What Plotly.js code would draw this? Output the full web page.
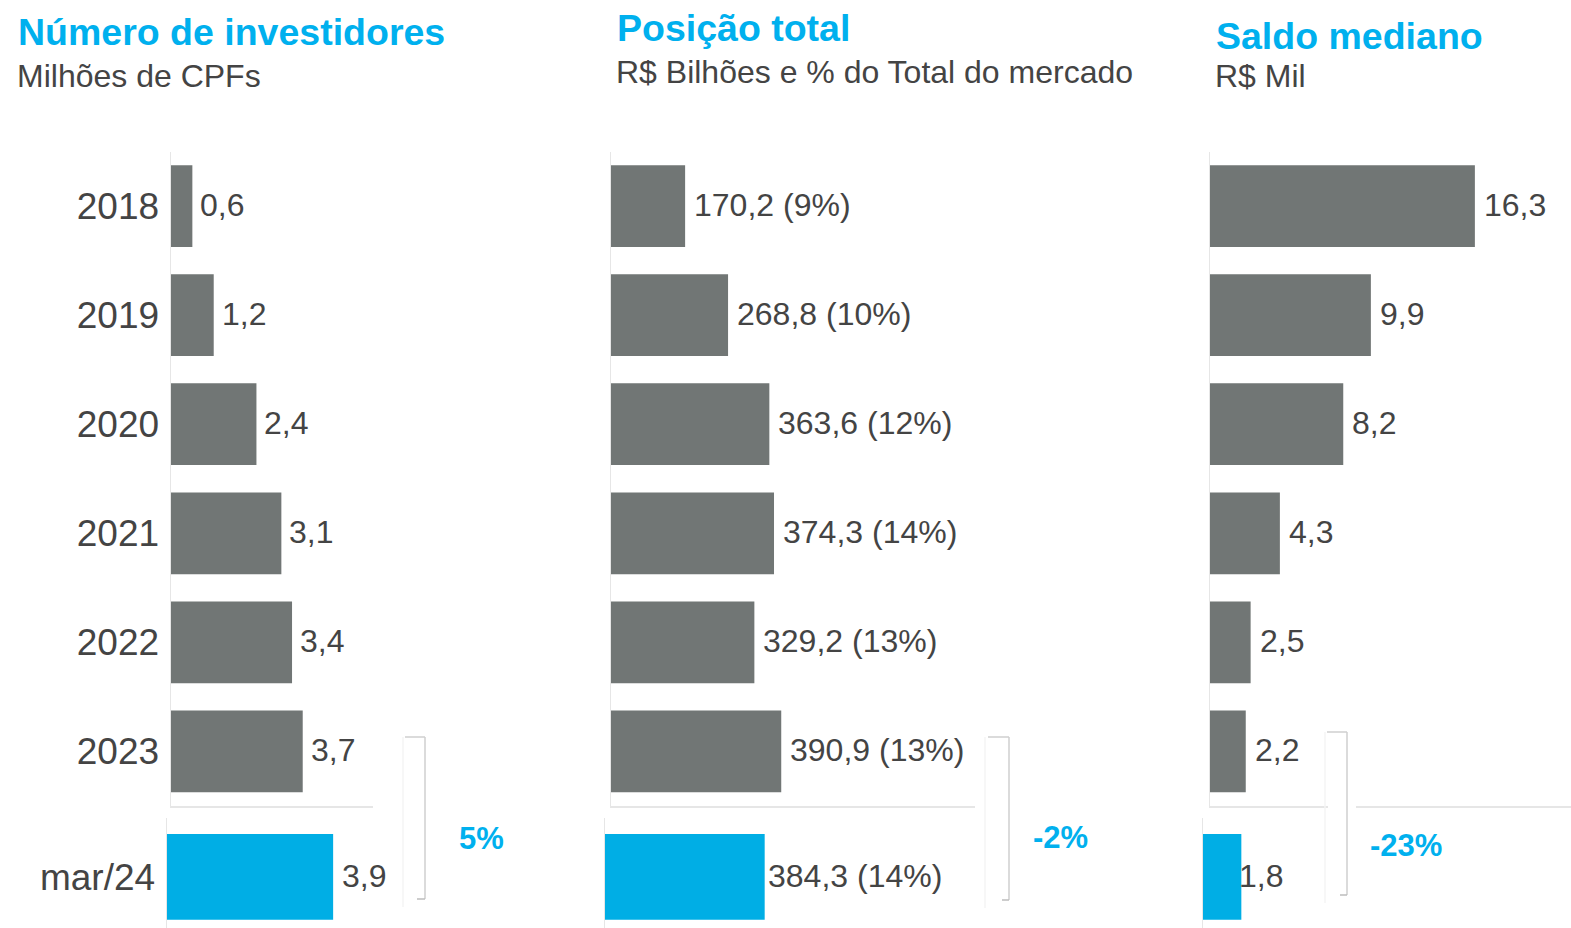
<!DOCTYPE html>
<html>
<head>
<meta charset="utf-8">
<script src="https://cdn.plot.ly/plotly-3.0.1.min.js"></script>
<style>
  html, body { margin: 0; padding: 0; background: #ffffff; }
  #chart { width: 1571px; height: 928px; }
</style>
</head>
<body>
<div id="chart"></div>
<script>
// ---------- DATA ----------
const years = ['2018', '2019', '2020', '2021', '2022', '2023'];
const latestLabel = ['mar/24'];

const investors = [0.6, 1.2, 2.4, 3.1, 3.4, 3.7];          // Milhões de CPFs
const investorsLatest = [3.9];

const position = [170.2, 268.8, 363.6, 374.3, 329.2, 390.9]; // R$ Bilhões
const positionPct = [9, 10, 12, 14, 13, 13];                 // % do total
const positionLatest = [384.3];
const positionLatestPct = [14];

const medianBalance = [16.3, 9.9, 8.2, 4.3, 2.5, 2.2];       // R$ Mil
const medianLatest = [1.8];

const changes = ['5%', '-2%', '-23%'];

const panelTitles = ['Número de investidores', 'Posição total', 'Saldo mediano'];
const panelSubtitles = ['Milhões de CPFs', 'R$ Bilhões e % do Total do mercado', 'R$ Mil'];

// ---------- HELPERS ----------
const W = 1571, H = 928;
const px = x => x / W;
const py = y => 1 - y / H;
const fmt = v => v.toFixed(1).replace('.', ',');

const GRAY = '#717675';
const BLUE = '#00AEE5';
const TITLE_BLUE = '#00B0EE';
const TEXT = '#444444';
const AXIS = '#E6E6E6';
const FONT = 'Liberation Sans, Arial, sans-serif';

// ---------- TRACES ----------
const traces = [];
function addBar(xs, ys, color, xa, ya, width) {
  traces.push({
    type: 'bar', orientation: 'h', x: xs, y: ys,
    marker: { color: color, line: { width: 0 } },
    width: width, xaxis: xa, yaxis: ya, hoverinfo: 'skip', showlegend: false
  });
}
addBar(investors, years, GRAY, 'x', 'y', 0.75);
addBar(investorsLatest, latestLabel, BLUE, 'x2', 'y2', 0.78);
addBar(position, years, GRAY, 'x3', 'y3', 0.75);
addBar(positionLatest, latestLabel, BLUE, 'x4', 'y4', 0.78);
addBar(medianBalance, years, GRAY, 'x5', 'y5', 0.75);
addBar(medianLatest, latestLabel, BLUE, 'x6', 'y6', 0.78);

// ---------- AXES ----------
function xa(domainPx, rangeMax, showLine, anchor) {
  return {
    domain: [px(domainPx[0]), px(domainPx[1])], range: [0, rangeMax], anchor: anchor,
    showgrid: false, zeroline: false, showticklabels: false, ticks: '',
    showline: showLine, linecolor: AXIS, linewidth: 1.5, fixedrange: true
  };
}
function ya(domainPx, anchor, cats, showLabels, standoff, shift) {
  const n = cats.length;
  return {
    domain: [py(domainPx[1]), py(domainPx[0])], anchor: anchor,
    type: 'category', categoryorder: 'array', categoryarray: cats,
    range: [n - 0.5 - shift, -0.5 - shift], autorange: false,
    showgrid: false, zeroline: false, ticks: '',
    showticklabels: showLabels, ticklabelstandoff: standoff,
    tickfont: { family: FONT, size: 37, color: TEXT },
    showline: true, linecolor: AXIS, linewidth: 1.5, fixedrange: true
  };
}

const UP = [151.5, 806];
const LO = [818, 928];

const layout = {
  width: W, height: H,
  margin: { l: 0, r: 0, t: 0, b: 0, pad: 0 },
  paper_bgcolor: '#ffffff', plot_bgcolor: 'rgba(0,0,0,0)',
  showlegend: false, hovermode: false,
  font: { family: FONT, color: TEXT },
  xaxis: xa([171, 373], 202 / 35.6, true, 'y'),
  yaxis: ya(UP, 'x', years, true, 3, 0),
  xaxis2: xa([167, 400], 233 / 42.6, false, 'y2'),
  yaxis2: ya(LO, 'x2', latestLabel, true, 3, 0.036),
  xaxis3: xa([611, 975], 364 / 0.4355, true, 'y3'),
  yaxis3: ya(UP, 'x3', years, false, 0, 0),
  xaxis4: xa([605, 900], 295 / 0.4155, false, 'y4'),
  yaxis4: ya(LO, 'x4', latestLabel, false, 0, 0.036),
  xaxis5: xa([1210, 1571], 361 / 16.25, true, 'y5'),
  yaxis5: ya(UP, 'x5', years, false, 0, 0),
  xaxis6: xa([1203, 1330], 127 / 21.3, false, 'y6'),
  yaxis6: ya(LO, 'x6', latestLabel, false, 0, 0.036),
  annotations: [],
  shapes: []
};

// ---------- VALUE LABELS ----------
const valFont = { family: FONT, size: 32, color: TEXT };
function valueLabels(vals, xref, yref, textFn, shift) {
  vals.forEach((v, i) => {
    layout.annotations.push({
      x: v, y: i, xref: xref, yref: yref, text: textFn(v, i),
      showarrow: false, xanchor: 'left', yanchor: 'middle', xshift: shift, yshift: 1,
      font: valFont
    });
  });
}
valueLabels(investors, 'x', 'y', v => fmt(v), 6);
valueLabels(investorsLatest, 'x2', 'y2', v => fmt(v), 7);
valueLabels(position, 'x3', 'y3', (v, i) => fmt(v) + ' (' + positionPct[i] + '%)', 7);
valueLabels(positionLatest, 'x4', 'y4', (v, i) => fmt(v) + ' (' + positionLatestPct[i] + '%)', 1);
valueLabels(medianBalance, 'x5', 'y5', v => fmt(v), 7);
valueLabels(medianLatest, 'x6', 'y6', v => fmt(v), -4);

// ---------- TITLES ----------
const titlePos = [[16, 32, 76], [615, 28, 72], [1214, 36, 76]];
titlePos.forEach((p, i) => {
  layout.annotations.push({
    x: px(p[0]), y: py(p[1]), xref: 'paper', yref: 'paper', xanchor: 'left', yanchor: 'middle',
    text: '<b>' + panelTitles[i] + '</b>', showarrow: false,
    font: { family: FONT, size: 37.5, color: TITLE_BLUE }
  });
  layout.annotations.push({
    x: px(p[0] - 1), y: py(p[2]), xref: 'paper', yref: 'paper', xanchor: 'left', yanchor: 'middle',
    text: panelSubtitles[i], showarrow: false,
    font: { family: FONT, size: 32, color: TEXT }
  });
});

// ---------- CHANGE BRACKETS ----------
const brackets = [
  { x0: 405, x1: 425, yt: 737, yb: 899, tick: 417, faint: 403, lx: 481, ly: 838 },
  { x0: 988, x1: 1009, yt: 737, yb: 900, tick: 1002, faint: 985, lx: 1060, ly: 837 },
  { x0: 1327, x1: 1347, yt: 732, yb: 895, tick: 1340, faint: 1325, lx: 1406, ly: 845 }
];
// gap in the third panel's axis line behind the bracket
layout.shapes.push({ type: 'rect', xref: 'paper', yref: 'paper',
  x0: px(1328), x1: px(1356), y0: py(810), y1: py(803), fillcolor: '#ffffff', line: { width: 0 } });
brackets.forEach((b, i) => {
  const L = (xa0, ya0, xa1, ya1, c, w) => layout.shapes.push({
    type: 'line', xref: 'paper', yref: 'paper',
    x0: px(xa0), y0: py(ya0), x1: px(xa1), y1: py(ya1), line: { color: c, width: w }
  });
  L(b.faint, b.yt, b.faint, b.yb + 8, '#F4F4F4', 1.5);
  L(b.x0, b.yt, b.x1, b.yt, '#CFCFCF', 1.5);
  L(b.x1, b.yt, b.x1, b.yb, '#CFCFCF', 1.5);
  L(b.tick, b.yb, b.x1, b.yb, '#BDBDBD', 1.5);
  layout.annotations.push({
    x: px(b.lx), y: py(b.ly), xref: 'paper', yref: 'paper', xanchor: 'center', yanchor: 'middle',
    text: '<b>' + changes[i] + '</b>', showarrow: false,
    font: { family: FONT, size: 31, color: TITLE_BLUE }
  });
});

Plotly.newPlot('chart', traces, layout, { staticPlot: true, displayModeBar: false });
</script>
</body>
</html>
